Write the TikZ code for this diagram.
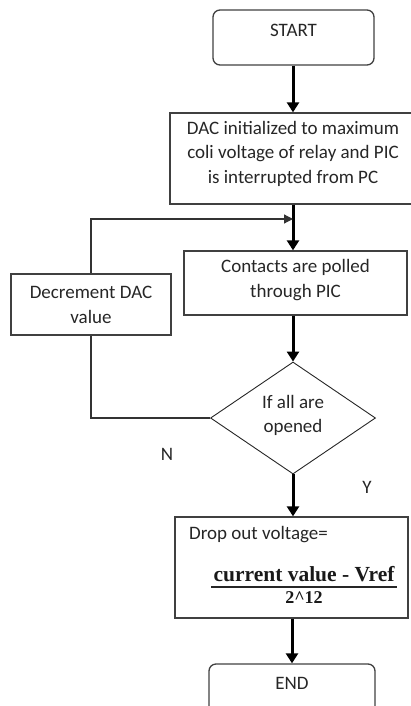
\documentclass[tikz,border=0pt]{standalone}
\usepackage{fontspec}
\setmainfont{Carlito}
\newfontfamily\fracfont{Liberation Serif}
\usetikzlibrary{shapes.geometric,arrows.meta}
\begin{document}
\begin{tikzpicture}[x=1pt,y=-1pt,
  box/.style={draw=black!75, line width=1.3pt, inner sep=0pt},
  term/.style={box, rounded corners=7pt},
  txt/.style={inner sep=0pt, align=center, text=black!85, font=\fontsize{19}{24.5}\selectfont},
  frac/.style={inner sep=0pt, text=black!90, font=\fracfont\bfseries},
  flow/.style={line width=3pt, -{Triangle[width=12pt,length=10pt]}},
  back/.style={draw=black!80, line width=1.2pt},
  backarrow/.style={back, -{Triangle[width=9pt,length=9pt]}}
]
\useasboundingbox (0,0) rectangle (411,706);
% boxes
\node[term, minimum width=161, minimum height=55] (start) at (293.5,37.5) {};
\node[txt] (startt) at (293.5,30) {START};
\node[box, minimum width=246, minimum height=91] (dac) at (293,158.5) {};
\node[txt] (dact) at (293,153.5) {DAC initialized to maximum\\coli voltage of relay and PIC\\is interrupted from PC};
\node[box, minimum width=223, minimum height=64] (cont) at (295.5,283) {};
\node[txt] (contt) at (295.5,280) {Contacts are polled\\through PIC};
\node[box, minimum width=160, minimum height=61] (dec) at (91,304.5) {};
\node[txt] (dect) at (91,305) {Decrement DAC\\value};
\node[draw=black!85, line width=0.9pt, diamond, aspect=1.47, minimum width=165, minimum height=112, inner sep=0pt] (dia) at (293,418) {};
\node[txt] (diat) at (293,415.5) {If all are\\opened};
\node[box, minimum width=233, minimum height=101] (drop) at (291.5,567.5) {};
\node[txt, anchor=west] (dropt) at (189,535) {Drop out voltage=};
\node[frac, font=\fracfont\bfseries\fontsize{21.5}{24}\selectfont] (num) at (304,574) {current value - Vref};
\node[frac, font=\fracfont\bfseries\fontsize{18}{22}\selectfont] (den) at (304,598) {2\^{}12};
\coordinate (rl) at (211,587);
\coordinate (rr) at (397,587);
\draw[line width=1.2pt, black!85] (rl) -- (rr);
\node[term, minimum width=166, minimum height=56] (end) at (292,692) {};
\node[txt] (endt) at (292,683) {END};
% labels
\node[txt] (n) at (167,454) {N};
\node[txt] (y) at (367,487) {Y};
% connectors
\coordinate (j) at (293,219);
\draw[flow] (dac.north |- start.south) -- (dac.north);
\draw[flow] (dac.south) -- (dac.south |- cont.north);
\draw[flow] (dia.north |- cont.south) -- (dia.north);
\draw[flow] (dia.south) -- (dia.south |- drop.north);
\draw[flow] (end.north |- drop.south) -- (end.north);
\draw[backarrow] (dec.north) |- (j);
\draw[back] (dia.west) -| (dec.south);
\end{tikzpicture}
\end{document}
